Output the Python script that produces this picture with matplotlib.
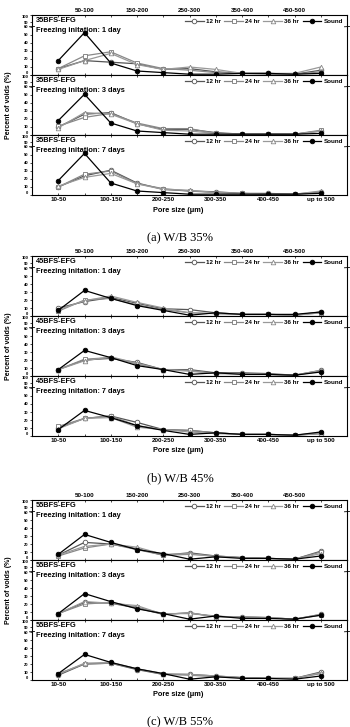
import numpy as np
import matplotlib
matplotlib.use("Agg")
import matplotlib.pyplot as plt

plt.rcParams['font.family'] = ['Liberation Sans', 'DejaVu Sans']

pore_sizes = ["10-50", "50-100", "100-150", "150-200", "200-250", "250-300",
              "300-350", "350-400", "400-450", "450-500", "up to 500"]
series_names = ["12 hr", "24 hr", "36 hr", "Sound"]
mixes = ["35BFS-EFG", "45BFS-EFG", "55BFS-EFG"]
captions = ["(a) W/B 35%", "(b) W/B 45%", "(c) W/B 55%"]
freeze_days = ["Freezing initation: 1 day", "Freezing initation: 3 days", "Freezing initation: 7 days"]

# W/B 35%
a1_12 = [8, 18, 16, 14, 7, 8, 4, 2, 2, 1, 6]
a1_24 = [8, 24, 29, 15, 8, 6, 3, 2, 1, 1, 4]
a1_36 = [7, 18, 27, 13, 7, 10, 7, 2, 2, 2, 10]
a1_snd = [18, 53, 15, 5, 3, 1, 1, 2, 2, 1, 2]
a2_12 = [10, 26, 28, 14, 7, 7, 3, 1, 1, 1, 5]
a2_24 = [11, 22, 27, 15, 8, 8, 2, 1, 1, 1, 6]
a2_36 = [9, 28, 26, 14, 6, 5, 2, 1, 1, 1, 5]
a2_snd = [18, 51, 15, 5, 3, 1, 1, 1, 1, 1, 2]
a3_12 = [10, 24, 31, 15, 7, 5, 4, 2, 2, 1, 4]
a3_24 = [10, 26, 30, 14, 8, 5, 3, 2, 1, 1, 3]
a3_36 = [11, 22, 27, 14, 7, 6, 3, 2, 1, 1, 5]
a3_snd = [18, 52, 15, 5, 3, 1, 1, 1, 1, 1, 2]
# W/B 45%
b1_12 = [10, 18, 23, 16, 9, 8, 4, 2, 2, 1, 5]
b1_24 = [6, 20, 22, 14, 8, 4, 3, 2, 2, 1, 4]
b1_36 = [8, 19, 25, 17, 10, 4, 3, 2, 2, 1, 4]
b1_snd = [7, 32, 22, 13, 7, 1, 4, 2, 2, 2, 5]
b2_12 = [8, 20, 22, 17, 8, 8, 4, 4, 3, 1, 7]
b2_24 = [8, 21, 23, 15, 8, 7, 3, 3, 2, 1, 6]
b2_36 = [8, 19, 24, 16, 8, 6, 3, 3, 2, 1, 7]
b2_snd = [8, 32, 23, 13, 8, 2, 4, 2, 2, 1, 5]
b3_12 = [10, 22, 25, 17, 8, 7, 4, 2, 2, 1, 3]
b3_24 = [12, 22, 25, 13, 8, 7, 4, 2, 2, 1, 4]
b3_36 = [9, 22, 23, 11, 8, 5, 3, 2, 2, 1, 3]
b3_snd = [8, 32, 23, 13, 7, 2, 4, 2, 2, 1, 5]
# W/B 55%
c1_12 = [6, 22, 20, 14, 6, 9, 5, 3, 2, 1, 11]
c1_24 = [5, 15, 20, 13, 6, 7, 5, 3, 2, 1, 10]
c1_36 = [6, 17, 20, 16, 7, 8, 4, 3, 2, 1, 8]
c1_snd = [7, 32, 22, 13, 8, 1, 4, 2, 2, 1, 5]
c2_12 = [8, 22, 21, 15, 7, 9, 4, 4, 3, 1, 7]
c2_24 = [8, 20, 22, 16, 8, 8, 5, 3, 3, 1, 6]
c2_36 = [8, 23, 21, 18, 7, 9, 4, 4, 3, 1, 7]
c2_snd = [8, 33, 23, 14, 8, 1, 5, 2, 2, 1, 6]
c3_12 = [6, 20, 21, 13, 7, 7, 5, 3, 2, 2, 10]
c3_24 = [8, 20, 21, 14, 7, 6, 4, 3, 2, 2, 8]
c3_36 = [7, 21, 22, 14, 8, 7, 5, 3, 2, 2, 9]
c3_snd = [8, 32, 22, 14, 8, 1, 4, 2, 2, 1, 5]

groups = [
    [[a1_12, a1_24, a1_36, a1_snd], [a2_12, a2_24, a2_36, a2_snd], [a3_12, a3_24, a3_36, a3_snd]],
    [[b1_12, b1_24, b1_36, b1_snd], [b2_12, b2_24, b2_36, b2_snd], [b3_12, b3_24, b3_36, b3_snd]],
    [[c1_12, c1_24, c1_36, c1_snd], [c2_12, c2_24, c2_36, c2_snd], [c3_12, c3_24, c3_36, c3_snd]],
]

yticks = [0, 10, 20, 30, 40, 50, 60, 90, 100]

styles = [
    dict(marker="o", color="#555555", mfc="white", mec="#555555"),
    dict(marker="s", color="#888888", mfc="white", mec="#777777"),
    dict(marker="^", color="#999999", mfc="white", mec="#888888"),
    dict(marker="o", color="black", mfc="black", mec="black"),
]


# broken y axis: 60..90 squeezed
def fwd(y):
    y = np.asarray(y, dtype=float)
    return np.where(y <= 60, y, np.where(y <= 90, 60 + (y - 60) * 0.2, 66 + (y - 90) * 0.9))


def inv(v):
    v = np.asarray(v, dtype=float)
    return np.where(v <= 60, v, np.where(v <= 66, 60 + (v - 60) * 5, 90 + (v - 66) / 0.9))


W, H = 350, 727
fig = plt.figure(figsize=(W / 100, H / 100), dpi=100)

tops = [15, 256, 500]
panel_h = 60
left, right = 32, 347
caption_y = [238, 478, 722]
x = np.arange(len(pore_sizes))

for g in range(3):
    for p in range(3):
        top = tops[g] + p * panel_h
        ax = fig.add_axes([left / W, 1 - (top + panel_h) / H, (right - left) / W, panel_h / H])
        ax.set_yscale("function", functions=(fwd, inv))
        ax.set_ylim(0, 100)
        ax.set_xlim(-1, 11)
        for s in range(4):
            st = styles[s]
            ax.plot(x, groups[g][p][s], marker=st["marker"], color=st["color"], mfc=st["mfc"],
                    mec=st["mec"], lw=0.9, ms=3.3, mew=0.6, label=series_names[s])
        ax.set_yticks(yticks)
        ax.set_yticklabels([str(v) for v in yticks], fontsize=3, fontweight="bold")
        ylabs = ax.get_yticklabels()
        ylabs[0].set_va("bottom")
        ylabs[-1].set_va("top")
        ax.set_xticks(x)
        ax.tick_params(axis="y", length=1.5, width=0.5, pad=1)
        ax.tick_params(axis="x", direction="in", length=1.5, width=0.5, top=True, pad=1.5)
        ax.set_xticklabels(pore_sizes, fontsize=4.5, fontweight="bold")
        for k, t in enumerate(ax.xaxis.get_major_ticks()):
            t.label1.set_visible(p == 2 and k % 2 == 0)
            t.label2.set_visible(p == 0 and k % 2 == 1)
            t.label2.set_fontsize(4.5)
            t.label2.set_fontweight("bold")
        for sp in ax.spines.values():
            sp.set_linewidth(0.8)
        # break marks on the y axis
        for xb in (0, 1):
            ax.plot([xb - 0.008, xb + 0.008], [fwd(72) - 1, fwd(72) + 1], color="black", lw=0.6,
                    transform=ax.get_yaxis_transform(), clip_on=False)
        ax.text(0.012, 0.97, mixes[g], transform=ax.transAxes, fontsize=5.3, fontweight="bold",
                va="top", ha="left")
        ax.text(0.012, 0.80, freeze_days[p], transform=ax.transAxes, fontsize=5.3, fontweight="bold",
                va="top", ha="left")
        ax.legend(loc="upper right", ncol=4, frameon=False, handlelength=3.0,
                  handletextpad=0.4, columnspacing=0.5, borderaxespad=0.2,
                  prop=dict(size=4.5, weight="bold"))
        if p == 1:
            fig.text(5 / W, 1 - (top + panel_h / 2) / H, "Percent of voids (%)", rotation=90,
                     fontsize=5, fontweight="bold", ha="left", va="center")
        if p == 2:
            fig.text(0.51, 1 - (top + panel_h + 15) / H, "Pore size (\u03bcm)", fontsize=5.3,
                     fontweight="bold", ha="center", va="center")
    fig.text(180 / W, 1 - caption_y[g] / H, captions[g], fontsize=9, family="Liberation Serif",
             ha="center", va="center")

fig.savefig("out.png", dpi=100)
